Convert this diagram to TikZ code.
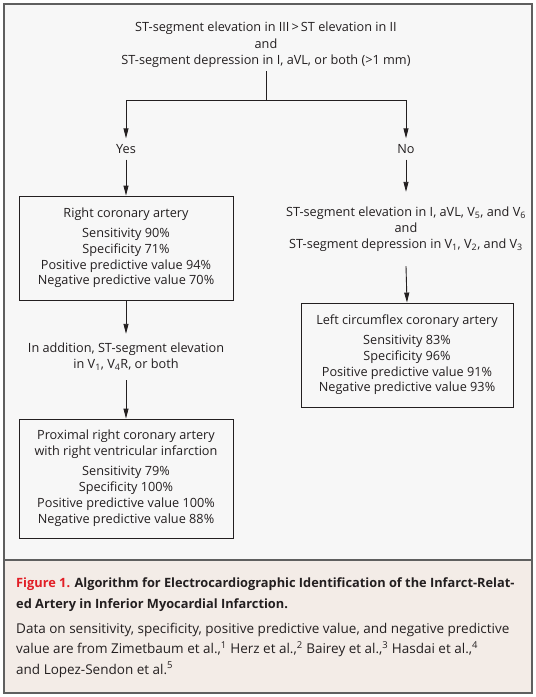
\documentclass[tikz,border=0pt]{standalone}
\usepackage{fontspec}
\setmainfont{Open Sans}
\usetikzlibrary{arrows.meta}
\definecolor{framec}{RGB}{95,95,95}
\definecolor{diagbg}{RGB}{247,247,247}
\definecolor{capbg}{RGB}{243,236,231}
\definecolor{figred}{RGB}{226,30,38}
\definecolor{ink}{RGB}{35,31,32}
\newcommand{\sbs}[1]{\textsubscript{#1}}
\begin{document}
\begin{tikzpicture}[x=1pt,y=-1pt,
  txt/.style={font=\fontsize{12.7}{15.7}\selectfont, text=ink, align=center, inner sep=0pt},
  boxnode/.style={txt, draw=ink, line width=0.9pt},
  arr/.style={draw=ink, line width=0.9pt, -{Triangle[length=10pt,width=5pt]}},
  conn/.style={draw=ink, line width=0.9pt}]
\useasboundingbox (0,0) rectangle (536,697);
\fill[white] (0,0) rectangle (536,697);
\fill[diagbg] (4,4) rectangle (532,560);
\fill[capbg] (4,560) rectangle (532,693);
\draw[framec, line width=2pt] (4,4) rectangle (532,693);
\draw[framec, line width=1.5pt] (4,560) -- (532,560);

\node[txt, font=\fontsize{12.7}{16.5}\selectfont, minimum height=52] (top) at (266,45)
  {ST-segment elevation in III\,>\,ST elevation in II\\ and\\ ST-segment depression in I, aVL, or both (>1 mm)};
\coordinate (split) at (266,100);
\node[txt, minimum height=21] (yes) at (126,149) {Yes};
\node[txt, minimum height=21] (no) at (406,149) {No};

\node[boxnode, minimum width=214, minimum height=104] (rca) at (126,248)
  {Right coronary artery\\[4.5pt] Sensitivity 90\%\\ Specificity 71\%\\ Positive predictive value 94\%\\ Negative predictive value 70\%};
\node[txt, font=\fontsize{12.7}{16}\selectfont, minimum height=46] (add) at (126,357)
  {In addition, ST-segment elevation\\ in V\sbs{1}, V\sbs{4}R, or both};
\node[boxnode, font=\fontsize{12.7}{16}\selectfont, minimum width=214, minimum height=119] (prox) at (126,478.5)
  {Proximal right coronary artery\\ with right ventricular infarction\\[4pt] Sensitivity 79\%\\ Specificity 100\%\\ Positive predictive value 100\%\\ Negative predictive value 88\%};

\node[txt, minimum height=74] (rtext) at (406,229)
  {ST-segment elevation in I, aVL, V\sbs{5}, and V\sbs{6}\\ and\\ ST-segment depression in V\sbs{1}, V\sbs{2}, and V\sbs{3}};
\node[boxnode, minimum width=212, minimum height=104] (lcx) at (407,355)
  {Left circumflex coronary artery\\[4.5pt] Sensitivity 83\%\\ Specificity 96\%\\ Positive predictive value 91\%\\ Negative predictive value 93\%};

\draw[conn] (top.south) -- (split);
\draw[arr] (split) -| (yes.north);
\draw[arr] (split) -| (no.north);
\draw[arr] (yes.south) -- (rca.north);
\draw[arr] (no.south) -- (rtext.north);
\draw[arr] (rtext.south) -- (lcx.north);
\draw[arr] (rca.south) -- (add.north);
\draw[arr] (add.south) -- (prox.north);

\node[anchor=west, inner sep=0pt, align=left, text=ink, font=\bfseries\fontsize{12.8}{21}\selectfont] (captitle) at (16,595)
  {\textcolor{figred}{Figure 1.} Algorithm for Electrocardiographic Identification of the Infarct-Relat-\\ ed Artery in Inferior Myocardial Infarction.};
\node[anchor=west, inner sep=0pt, align=left, text=ink, font=\fontsize{13.5}{20.5}\selectfont] (capbody) at (16,650)
  {Data on sensitivity, specificity, positive predictive value, and negative predictive\\ value are from Zimetbaum et al.,\textsuperscript{1} Herz et al.,\textsuperscript{2} Bairey et al.,\textsuperscript{3} Hasdai et al.,\textsuperscript{4}\\ and Lopez-Sendon et al.\textsuperscript{5}};
\end{tikzpicture}
\end{document}
